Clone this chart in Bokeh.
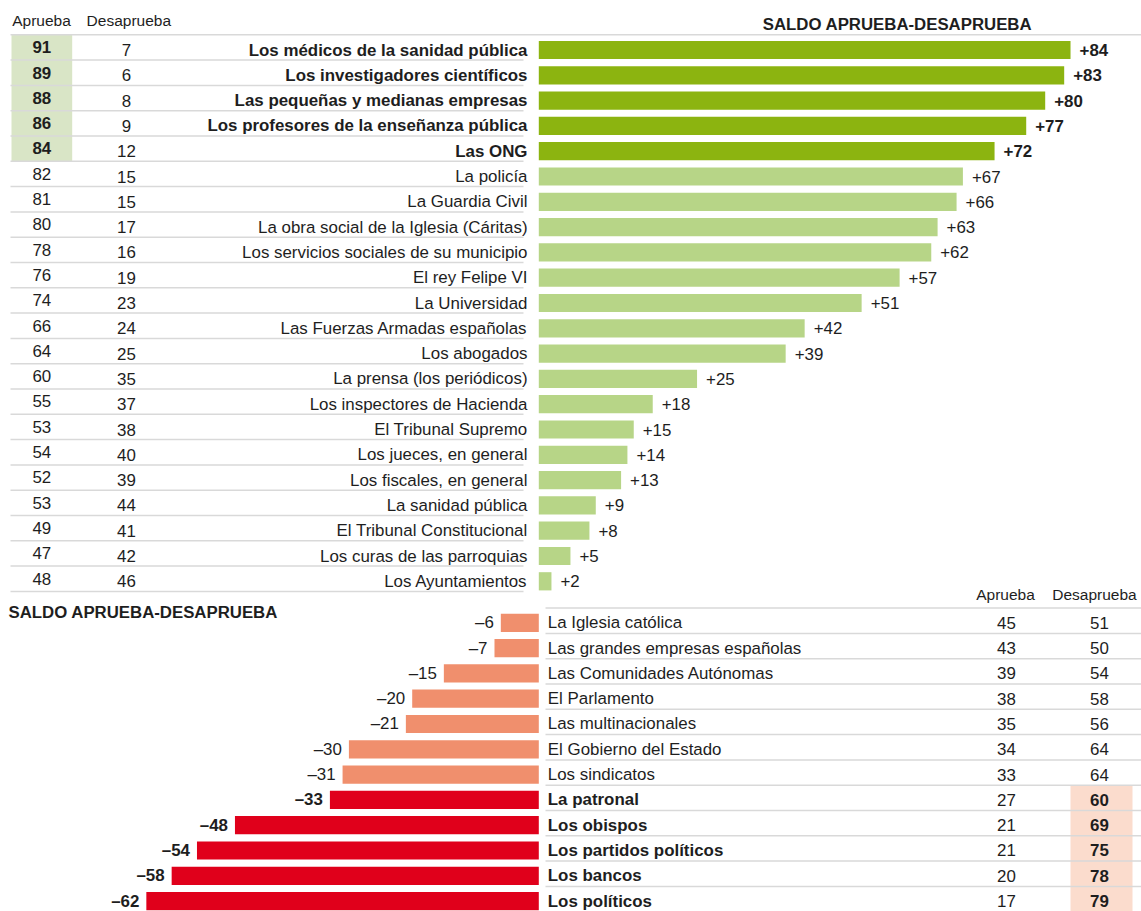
from bokeh.plotting import figure
from bokeh.models import Range1d, ColumnDataSource
from bokeh.core.properties import value
from bokeh.embed import file_html
from bokeh.resources import INLINE

# ---------------- data ----------------
top_names = ["Los médicos de la sanidad pública", "Los investigadores científicos",
             "Las pequeñas y medianas empresas", "Los profesores de la enseñanza pública",
             "Las ONG", "La policía", "La Guardia Civil", "La obra social de la Iglesia (Cáritas)",
             "Los servicios sociales de su municipio", "El rey Felipe VI", "La Universidad",
             "Las Fuerzas Armadas españolas", "Los abogados", "La prensa (los periódicos)",
             "Los inspectores de Hacienda", "El Tribunal Supremo", "Los jueces, en general",
             "Los fiscales, en general", "La sanidad pública", "El Tribunal Constitucional",
             "Los curas de las parroquias", "Los Ayuntamientos"]
top_aprueba = [91, 89, 88, 86, 84, 82, 81, 80, 78, 76, 74, 66, 64, 60, 55, 53, 54, 52, 53, 49, 47, 48]
top_desaprueba = [7, 6, 8, 9, 12, 15, 15, 17, 16, 19, 23, 24, 25, 35, 37, 38, 40, 39, 44, 41, 42, 46]
top_saldo = [84, 83, 80, 77, 72, 67, 66, 63, 62, 57, 51, 42, 39, 25, 18, 15, 14, 13, 9, 8, 5, 2]
top_highlight = 5  # first rows in bold / dark green

bot_names = ["La Iglesia católica", "Las grandes empresas españolas", "Las Comunidades Autónomas",
             "El Parlamento", "Las multinacionales", "El Gobierno del Estado", "Los sindicatos",
             "La patronal", "Los obispos", "Los partidos políticos", "Los bancos", "Los políticos"]
bot_saldo = [-6, -7, -15, -20, -21, -30, -31, -33, -48, -54, -58, -62]
bot_aprueba = [45, 43, 39, 38, 35, 34, 33, 27, 21, 21, 20, 17]
bot_desaprueba = [51, 50, 54, 58, 56, 64, 64, 60, 69, 75, 78, 79]
bot_highlight_from = 7  # rows from here in bold / red

title_text = "SALDO APRUEBA-DESAPRUEBA"
col_headers = ["Aprueba", "Desaprueba"]

# ---------------- layout ----------------
X0 = 538.3      # page pixel of zero
SX = 6.33       # pixels per unit
Y0 = 49.5       # page pixel of first row centre
SY = 25.3       # row pitch in pixels
BOT0 = 22.64    # first row of the lower block (in rows)

def px(x):
    return (x - X0) / SX

def py(y):
    return (y - Y0) / SY

W, H = 1141, 911
FONT = value("Liberation Sans")
TXT = "#1e1e1e"
DARK_GREEN = "#8cb410"
LIGHT_GREEN = "#b7d587"
SALMON = "#f08f6d"
RED = "#e0001b"
GREEN_BG = "#d9e5c6"
PEACH_BG = "#fbdccd"
LINE = "#d9d9d9"

p = figure(width=W, height=H, output_backend="svg", toolbar_location=None,
           x_range=Range1d(px(0), px(W)), y_range=Range1d(py(H), py(0)),
           min_border=0)
p.axis.visible = False
p.grid.visible = False
p.outline_line_color = None
p.background_fill_color = "white"

n_top = len(top_names)
n_bot = len(bot_names)
top_rows = list(range(n_top))
bot_rows = [BOT0 + j for j in range(n_bot)]

# background highlight cells
p.quad(left=px(11), right=px(71.7), top=-0.6, bottom=top_highlight - 0.6,
       fill_color=GREEN_BG, line_color=None)
p.quad(left=px(1070), right=px(1132), top=BOT0 + bot_highlight_from - 0.58,
       bottom=py(H) + 1, fill_color=PEACH_BG, line_color=None)

# separator lines
p.segment(x0=[px(10)], x1=[px(1141)], y0=[-0.6], y1=[-0.6], line_color=LINE, line_width=1.5)
p.segment(x0=[px(10)] * n_top, x1=[px(523)] * n_top,
          y0=[r + 0.4 for r in top_rows], y1=[r + 0.4 for r in top_rows],
          line_color=LINE, line_width=1.5)
bl = [BOT0 - 0.58] + [r + 0.42 for r in bot_rows[:-1]]
p.segment(x0=[px(545)] * len(bl), x1=[px(1141)] * len(bl), y0=bl, y1=bl,
          line_color=LINE, line_width=1.5)

# bars
top_colors = [DARK_GREEN if i < top_highlight else LIGHT_GREEN for i in range(n_top)]
bot_colors = [RED if j >= bot_highlight_from else SALMON for j in range(n_bot)]
p.hbar(y=top_rows, left=0, right=top_saldo, height=0.72, fill_color=top_colors, line_color=None)
p.hbar(y=bot_rows, left=bot_saldo, right=0, height=0.72, fill_color=bot_colors, line_color=None)

def txt(x, y, t, align="left", bold=False, size="16.9px", **kw):
    src = ColumnDataSource(dict(x=x, y=y, t=t))
    p.text(x="x", y="y", text="t", source=src, text_align=align, text_baseline="middle",
           text_font=FONT, text_font_size=size, text_color=TXT,
           text_font_style="bold" if bold else "normal", **kw)

# headers
txt([px(41)], [py(19.5)], [col_headers[0]], align="center", size="15.5px")
txt([px(128.3)], [py(19.5)], [col_headers[1]], align="center", size="15.5px")
txt([px(1005)], [BOT0 + py(596) - py(624)], [col_headers[0]], align="center", size="15.5px")
txt([px(1094)], [BOT0 + py(596) - py(624)], [col_headers[1]], align="center", size="15.5px")

# titles
txt([px(897)], [py(24)], [title_text], align="center", bold=True, size="16.8px")
txt([px(8)], [BOT0 + py(613.5) - py(624)], [title_text], align="left", bold=True, size="16.8px")

# top block
hi = slice(0, top_highlight)
lo = slice(top_highlight, n_top)
for sl, b in ((hi, True), (lo, False)):
    rows = top_rows[sl]
    txt([px(41.3)] * len(rows), [r - 0.11 for r in rows], [str(v) for v in top_aprueba[sl]],
        align="center", bold=b)
    txt([px(126)] * len(rows), rows, [str(v) for v in top_desaprueba[sl]], align="center")
    txt([px(527)] * len(rows), rows, top_names[sl], align="right", bold=b)
    txt(top_saldo[sl], rows, ["+%d" % v for v in top_saldo[sl]], align="left", bold=b,
        x_offset=9)

# bottom block
hi = slice(bot_highlight_from, n_bot)
lo = slice(0, bot_highlight_from)
for sl, b in ((lo, False), (hi, True)):
    rows = bot_rows[sl]
    txt([px(1006)] * len(rows), rows, [str(v) for v in bot_aprueba[sl]], align="center")
    txt([px(1099)] * len(rows), rows, [str(v) for v in bot_desaprueba[sl]], align="center", bold=b)
    txt([px(547.3)] * len(rows), rows, bot_names[sl], align="left", bold=b)
    txt(bot_saldo[sl], rows, ["\u2013%d" % abs(v) for v in bot_saldo[sl]], align="right", bold=b,
        x_offset=-7)

open("out.html", "w").write(file_html(p, INLINE))
